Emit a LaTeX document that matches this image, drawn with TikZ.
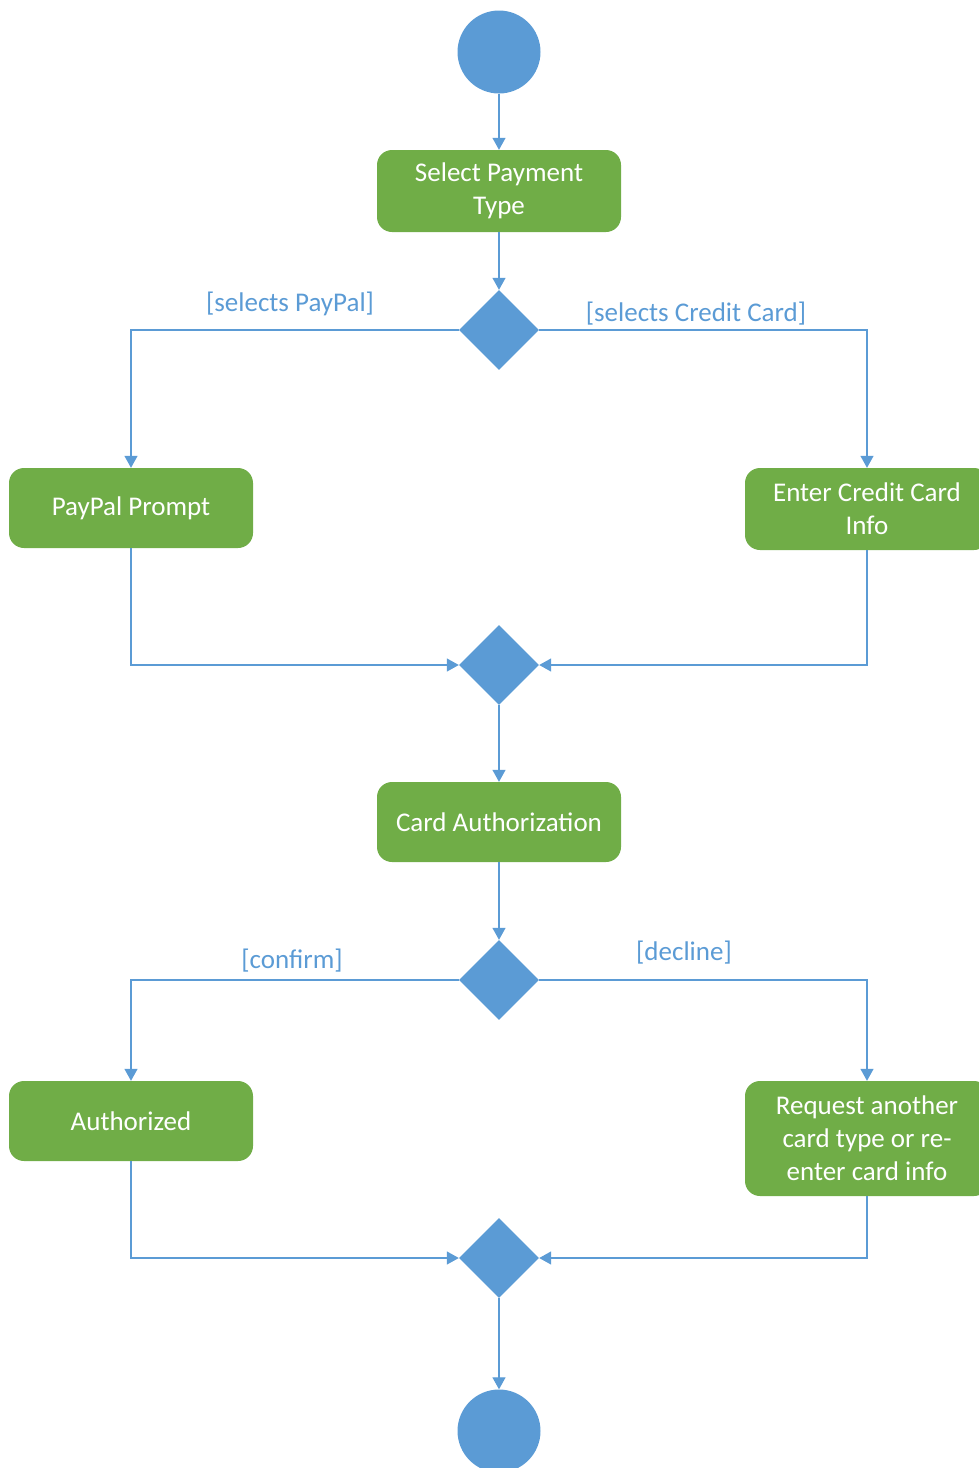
\documentclass[tikz,border=0pt]{standalone}
\usepackage{fontspec}
\setmainfont{Carlito}
\usetikzlibrary{shapes.geometric,arrows.meta}
\definecolor{actgreen}{HTML}{70AD47}
\definecolor{flowblue}{HTML}{5B9BD5}
\tikzset{
  act/.style={draw=none, fill=actgreen, rounded corners=15pt, text=white,
    minimum width=244pt, align=center, inner sep=0pt,
    font=\fontsize{27}{33}\selectfont},
  decision/.style={diamond, aspect=1, fill=flowblue, draw=none,
    minimum width=80pt, minimum height=80pt, inner sep=0pt},
  terminal/.style={circle, fill=flowblue, draw=none, minimum size=83pt, inner sep=0pt},
  guard/.style={text=flowblue, font=\fontsize{27}{32}\selectfont, inner sep=0pt},
  flow/.style={draw=flowblue, line width=1.3pt,
    -{Triangle[width=13pt,length=12pt]}}
}
\begin{document}
\begin{tikzpicture}[x=1pt,y=-1pt]
  \useasboundingbox (0,0) rectangle (979,1468);

  % start and end states
  \node[terminal] (start) at (499,52) {};
  \node[terminal] (stop) at (499,1431) {};

  % activities
  \node[act, minimum height=82pt] (sel) at (499,191) {Select Payment\\Type};
  \node[act, minimum height=80pt] (pp) at (131,508) {PayPal Prompt};
  \node[act, minimum height=82pt] (cc) at (867,509) {Enter Credit Card\\Info};
  \node[act, minimum height=80pt] (auth) at (499,822) {Card Authorization};
  \node[act, minimum height=80pt] (ok) at (131,1121) {Authorized};
  \node[act, minimum height=115pt] (req) at (867,1138.5) {Request another\\card type or re-\\enter card info};

  % decisions and merges
  \node[decision] (d1) at (499,330) {};
  \node[decision] (m1) at (499,665) {};
  \node[decision] (d2) at (499,980) {};
  \node[decision] (m2) at (499,1258) {};

  % guards
  \node[guard] (gpp) at (290,304) {[selects PayPal]};
  \node[guard] (gcc) at (696,314) {[selects Credit Card]};
  \node[guard] (gok) at (292,961) {[confirm]};
  \node[guard] (gno) at (684,953) {[decline]};

  % control flow
  \draw[flow] (start) -- (sel);
  \draw[flow] (sel) -- (d1);
  \draw[flow] (d1.west) -| (pp.north);
  \draw[flow] (d1.east) -| (cc.north);
  \draw[flow] (pp.south) |- (m1.west);
  \draw[flow] (cc.south) |- (m1.east);
  \draw[flow] (m1) -- (auth);
  \draw[flow] (auth) -- (d2);
  \draw[flow] (d2.west) -| (ok.north);
  \draw[flow] (d2.east) -| (req.north);
  \draw[flow] (ok.south) |- (m2.west);
  \draw[flow] (req.south) |- (m2.east);
  \draw[flow] (m2) -- (stop);
\end{tikzpicture}
\end{document}
